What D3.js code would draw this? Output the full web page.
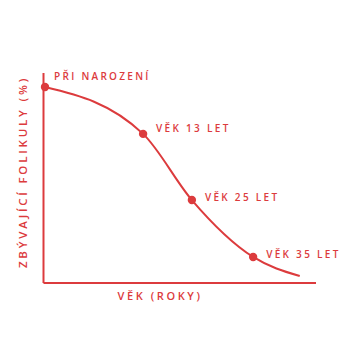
<!DOCTYPE html>
<html><head><meta charset="utf-8">
<script src="https://cdn.jsdelivr.net/npm/d3@7"></script>
<style>html,body{margin:0;padding:0;background:#fff;}</style>
</head><body>
<svg id="c" width="360" height="360"></svg>
<script>
// milestones: label, position along the (unscaled) age axis, remaining follicles (%)
const labels = ["PŘI NAROZENÍ", "VĚK 13 LET", "VĚK 25 LET", "VĚK 35 LET"];
const milestoneX = [0, 36.2, 54.2, 76.8];
const milestoneY = [93.3, 71, 39.5, 12.4];
// curve points
const curveX = [0, 36.2, 54.2, 76.8, 94];
const curveY = [93.3, 71, 39.5, 12.4, 3.3];
const xTitle = "VĚK (ROKY)";
const yTitle = "ZBÝVAJÍCÍ FOLIKULY (%)";

const red = "#dc3b3d";
const svg = d3.select("#c");
const x = d3.scaleLinear().domain([0, 100]).range([45, 316]);
const y = d3.scaleLinear().domain([0, 100]).range([283, 73]);
const font = "'Open Sans', sans-serif";

// axes
svg.append("line").attr("x1", x(0) - 1.5).attr("x2", x(0) - 1.5)
  .attr("y1", y(100)).attr("y2", y(0)).attr("stroke", red).attr("stroke-width", 2);
svg.append("line").attr("x1", x(0) - 1.5).attr("x2", x(100))
  .attr("y1", y(0)).attr("y2", y(0)).attr("stroke", red).attr("stroke-width", 2.2);

// curve
const pts = curveX.map((d, i) => [d, curveY[i]]);
svg.append("path").datum(pts)
  .attr("d", d3.line().x(d => x(d[0])).y(d => y(d[1])).curve(d3.curveMonotoneX))
  .attr("fill", "none").attr("stroke", red).attr("stroke-width", 2);

// points
const ms = labels.map((l, i) => ({l, x: milestoneX[i], y: milestoneY[i]}));
svg.selectAll("circle.m").data(ms).enter().append("circle")
  .attr("cx", d => x(d.x)).attr("cy", d => y(d.y)).attr("r", 4.2).attr("fill", red);

svg.selectAll("text.m").data(ms).enter().append("text")
  .attr("x", (d, i) => x(d.x) + (i === 0 ? 9 : 13))
  .attr("y", (d, i) => y(d.y) + (i === 0 ? -7 : i === 1 ? -2 : 1))
  .attr("fill", red).attr("font-family", font).attr("font-weight", 600)
  .attr("font-size", 10).attr("letter-spacing", 2.3)
  .text(d => d.l);

// axis titles
svg.append("text").attr("x", 160).attr("y", 300).attr("text-anchor", "middle")
  .attr("fill", red).attr("font-family", font).attr("font-weight", 600)
  .attr("font-size", 11).attr("letter-spacing", 2.6).text(xTitle);
svg.append("text").attr("transform", "translate(27,172) rotate(-90)").attr("text-anchor", "middle")
  .attr("fill", red).attr("font-family", font).attr("font-weight", 600)
  .attr("font-size", 11.5).attr("letter-spacing", 2.8).text(yTitle);
</script>
</body></html>
